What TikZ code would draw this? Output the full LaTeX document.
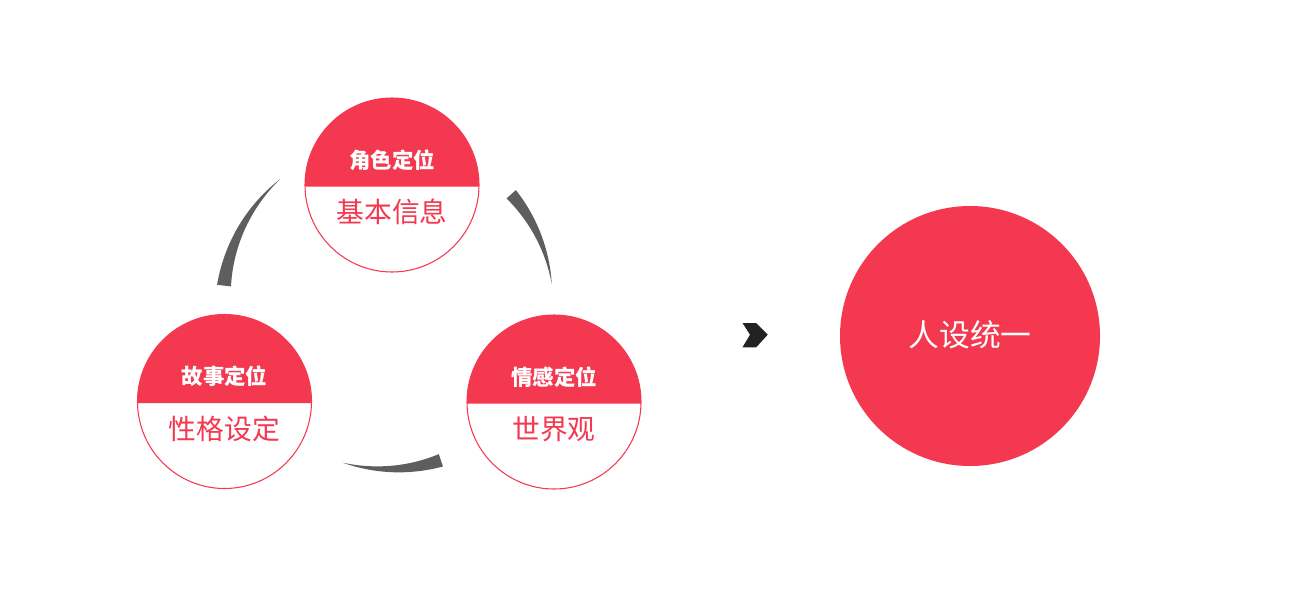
\documentclass[tikz,border=0pt]{standalone}
\usepackage{fontspec}
\newfontfamily\cjk{Noto Sans CJK SC}
\definecolor{rojo}{HTML}{F33850}
\definecolor{gris}{HTML}{5E5E5E}
\definecolor{negro}{HTML}{222222}

\begin{document}
\begin{tikzpicture}[x=0.02cm,y=0.02cm,
  titulo/.style={text=white,font=\cjk\bfseries\fontsize{12.2}{14}\selectfont},
  texto/.style={text=rojo,font=\cjk\fontsize{15.8}{18}\selectfont}]
  \useasboundingbox (0,0) rectangle (1300,600);
  % arcos grises que se afinan
  \foreach \ai/\af/\w in {173.6/130.9/14,41.7/7.0/12.5,-71.3/-105.9/13}{
    \fill[gris,shift={(388,296)}] plot[domain=\af:\ai,samples=40] (\x:{165+\w/2*(\x-\af)/(\ai-\af)})
      -- plot[domain=\ai:\af,samples=40] (\x:{165-\w/2*(\x-\af)/(\ai-\af)}) -- cycle;}
  % circulos con banda roja
  \foreach \cx/\cy/\n/\a/\b in {392/415/rol/角色定位/基本信息,224.5/198.5/his/故事定位/性格设定,554/198/emo/情感定位/世界观}{
    \fill[white] (\cx,\cy) circle(87);
    \fill[rojo] ([shift={(\cx,\cy)}]181:87) arc(181:-1:87) -- cycle;
    \draw[rojo,line width=0.6pt] (\cx,\cy) circle(87);
    \node[titulo] (\n-t) at (\cx,\cy+25) {\a};
    \node[texto] (\n-b) at (\cx,\cy-27) {\b};}
  % flecha
  \fill[negro] (742.5,277) -- (756.2,277) -- (767.7,265.3) -- (756.2,252.7) -- (742.5,252.7) -- (750,265.3) -- cycle;
  % resultado
  \fill[rojo] (970,264) circle(130);
  \node[text=white,font=\cjk\fontsize{17.5}{20}\selectfont] (uni) at (970,265) {人设统一};
\end{tikzpicture}
\end{document}
